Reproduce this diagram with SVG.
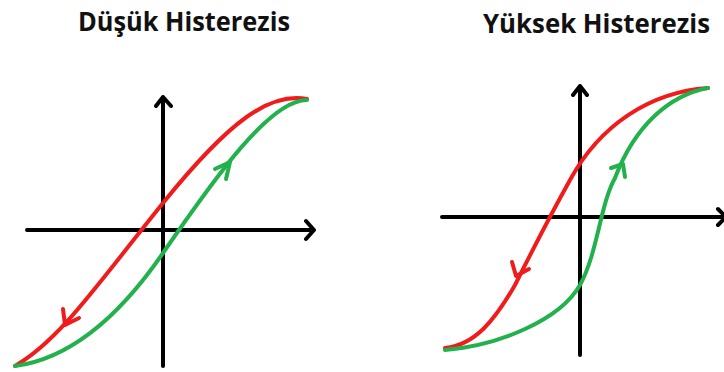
<svg xmlns="http://www.w3.org/2000/svg" width="724" height="372" viewBox="0 0 724 372">
<style>
.title{font-family:"Open Sans","Noto Sans","Liberation Sans",sans-serif;font-weight:bold;font-size:27px;fill:#111}
.axis{stroke:#000;stroke-width:4;fill:none;stroke-linecap:round;stroke-linejoin:round}
.red{stroke:#f01c1c;stroke-width:4;fill:none;stroke-linecap:round;stroke-linejoin:round}
.green{stroke:#22b14c;stroke-width:4;fill:none;stroke-linecap:round;stroke-linejoin:round}
</style>
<rect width="724" height="372" fill="#fff"/>
<g id="title-low"><text class="title" x="78" y="31" textLength="212" lengthAdjust="spacingAndGlyphs">Düşük Histerezis</text></g>
<g id="title-high"><text class="title" x="483" y="33" textLength="227" lengthAdjust="spacingAndGlyphs">Yüksek Histerezis</text></g>
<g id="plot-low">
<g id="axes-low">
<path class="axis" d="M163,366 V97 M156,106 L163,97 L171,106"/>
<path class="axis" d="M27,230 H313 M306,221 L314,230 L306,239"/>
</g>
<g id="curves-low">
<path class="red" d="M307,99 C270,92 230,120 163,203 S60,340 15,366"/>
<path class="red" d="M63,309 L65,325 L79,318"/>
<path class="green" d="M15,366 C60,360 110,330 163,253 S270,100 307,100"/>
<path class="green" d="M215,169 L230,162 L226,179"/>
</g>
</g>
<g id="plot-high">
<g id="axes-high">
<path class="axis" d="M580,355 V86 M573,95 L580,86 L587,95"/>
<path class="axis" d="M442,217 H722 M718,209 L726,217 L718,225"/>
</g>
<g id="curves-high">
<path class="red" d="M708,88 C650,92 600,125 570,180 C545,225 530,255 515,285 C495,320 475,345 445,348"/>
<path class="red" d="M512,262 L516,276 L529,269"/>
<path class="green" d="M445,350 C500,345 560,320 580,285 C598,252 600,205 615,178 C635,125 670,95 708,88"/>
<path class="green" d="M611,168 L623,164 L625,177"/>
</g>
</g>
</svg>
